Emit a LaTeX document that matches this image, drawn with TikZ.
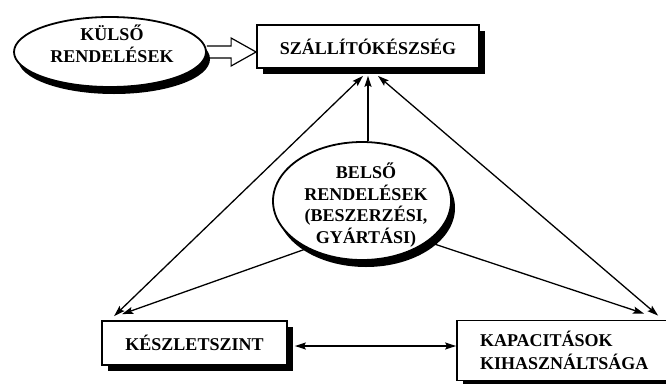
\documentclass[tikz,border=0pt]{standalone}
\usepackage{fontspec}
\setmainfont{Liberation Serif}
\usetikzlibrary{arrows.meta,shapes.geometric,shadows,calc,backgrounds}
\begin{document}
\begin{tikzpicture}[x=1pt,y=-1pt,
  lbl/.style={font=\fontsize{18}{21.5}\selectfont\bfseries, align=center, inner sep=0pt},
  boxnode/.style={draw, line width=1.8pt, fill=white, rectangle, inner sep=0pt,
    drop shadow={shadow xshift=6pt, shadow yshift=-6pt, fill=black, opacity=1},
    font=\fontsize{18}{23}\selectfont\bfseries},
  ovalnode/.style={draw, line width=1.8pt, fill=white, ellipse, inner sep=0pt,
    drop shadow={shadow xshift=4pt, shadow yshift=-7pt, fill=black, opacity=1}},
  tip/.tip={Stealth[length=11pt,width=7pt,inset=2pt]},
  link/.style={line width=1.3pt, -tip},
  both/.style={line width=1.3pt, tip-tip}
]
\clip (0,0) rectangle (666,383);

% boxes
\node[boxnode, minimum width=222pt, minimum height=43pt] (szall) at (368,46.5) {SZÁLLÍTÓKÉSZSÉG};
\node[boxnode, minimum width=185pt, minimum height=44pt] (keszlet) at (194.5,343) {KÉSZLETSZINT};
\node[boxnode, minimum width=260pt, minimum height=60pt, align=left,
      text width=214pt, inner xsep=23pt] (kapac) at (587,350.5) {KAPACITÁSOK\\KIHASZNÁLTSÁGA};

% ovals
\node[ovalnode, minimum width=192pt, minimum height=70pt] (kulso) at (110,52) {};
\node[lbl] (kulsotxt) at (112,44) {KÜLSŐ\\RENDELÉSEK};
\node[ovalnode, minimum width=178pt, minimum height=118pt] (belso) at (362,201) {};
\node[lbl] (belsotxt) at (366,205) {BELSŐ\\RENDELÉSEK\\(BESZERZÉSI,\\GYÁRTÁSI)};

\begin{scope}[on background layer]
  \fill[white] (0,0) rectangle (666,383);
  % hollow arrow: external orders feed delivery readiness
  \coordinate (h0) at (kulso.east);
  \coordinate (h1) at (kulso.east -| szall.west);
  \draw[line width=1.2pt, fill=white, line join=miter]
    ($(h0)+(0,-6)$) -- ($(h1)+(-25,-6)$) -- ($(h1)+(-25,-14)$) -- (h1)
    -- ($(h1)+(-25,14)$) -- ($(h1)+(-25,6)$) -- ($(h0)+(0,6)$);
  % internal orders
  \draw[link] (belso.north -| szall.south) -- ([yshift=-7pt]szall.south);
  \draw[link] ($(belso.center)+(0,28)$) -- ([xshift=21pt,yshift=6pt]keszlet.north west);
  \draw[link] ($(belso.center)+(0,19)$) -- ([xshift=188pt,yshift=6pt]kapac.north west);
  % mutual links
  \draw[both] ([xshift=-5pt,yshift=-7pt]szall.south) -- ([xshift=13pt,yshift=4pt]keszlet.north west);
  \draw[both] ([xshift=10pt,yshift=-7pt]szall.south) -- ([xshift=202pt,yshift=4pt]kapac.north west);
  \draw[both] ($(keszlet.east)+(7,3)$) -- ($(keszlet.east -| kapac.west)+(0,3)$);
\end{scope}
\end{tikzpicture}
\end{document}
